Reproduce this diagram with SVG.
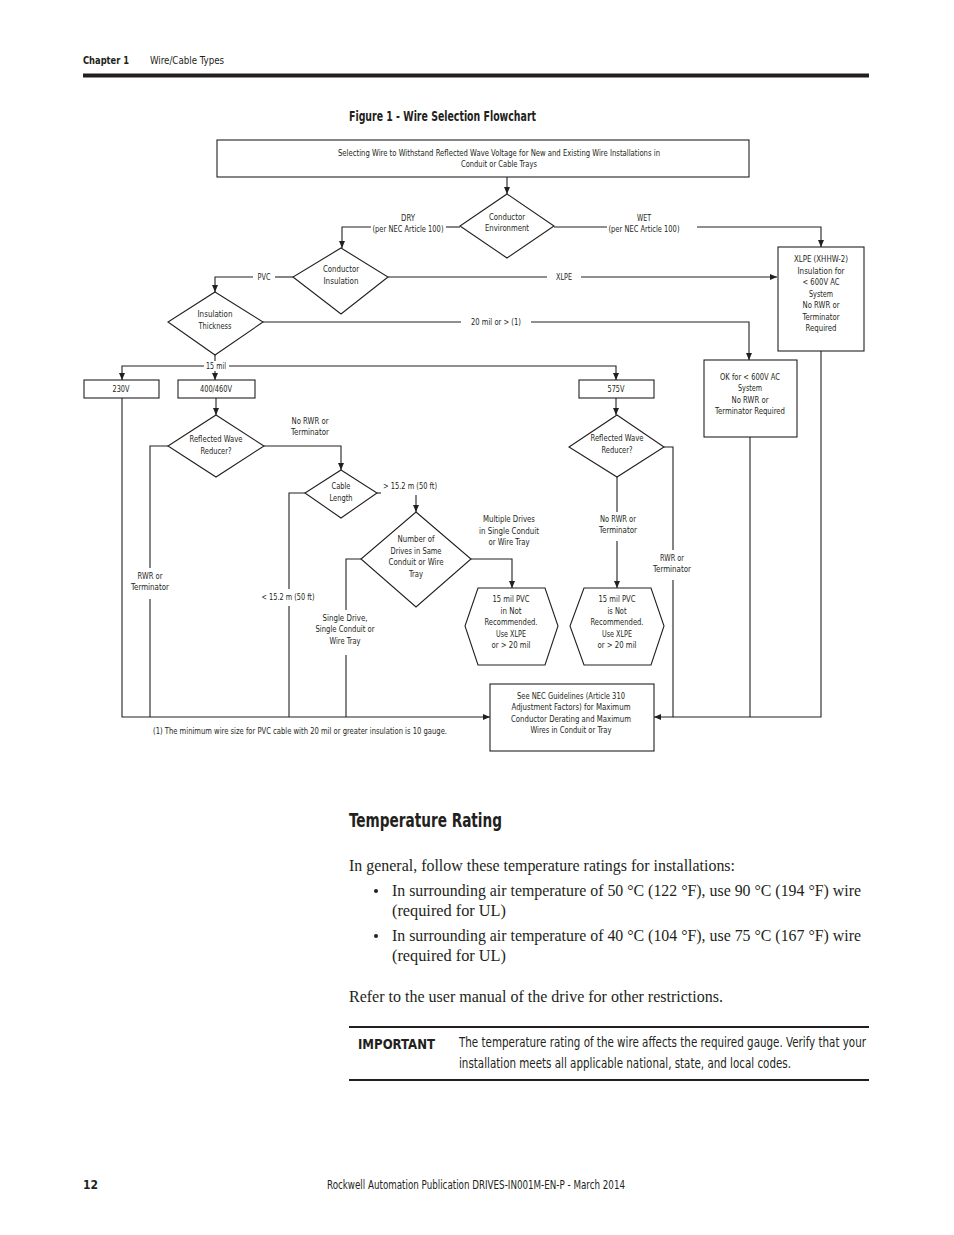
<svg xmlns="http://www.w3.org/2000/svg" width="954" height="1235" viewBox="0 0 954 1235">
<style>
.bg{fill:#fff}
.box{fill:#fff;stroke:#231f20;stroke-width:1.1}
.c{fill:none;stroke:#231f20;stroke-width:1.1}
.t{font-family:"Liberation Sans Narrow","DejaVu Sans Condensed","Liberation Sans",sans-serif;font-size:9.5px;fill:#231f20;text-anchor:middle}
.s{font-family:"Liberation Sans Narrow","DejaVu Sans Condensed","Liberation Sans",sans-serif;fill:#231f20}
.b{font-weight:bold}
.serif{font-family:"Liberation Serif","DejaVu Serif",serif;font-size:16.5px;fill:#231f20}
</style>
<defs>
<marker id="ah" markerWidth="8" markerHeight="8" refX="7" refY="4" orient="auto" markerUnits="userSpaceOnUse">
<path d="M0,1 L7,4 L0,7 Z" fill="#231f20"/>
</marker>
</defs>
<rect class="bg" x="0" y="0" width="954" height="1235"/>

<g id="header">
<text class="s b" x="83" y="64" font-size="11" textLength="46" lengthAdjust="spacingAndGlyphs">Chapter 1</text>
<text class="s" x="150" y="64" font-size="11" textLength="74" lengthAdjust="spacingAndGlyphs">Wire/Cable Types</text>
<rect x="83" y="73.5" width="786" height="4" fill="#231f20"/>
<text class="s b" x="349" y="121" font-size="14" textLength="187" lengthAdjust="spacingAndGlyphs">Figure 1 - Wire Selection Flowchart</text>
</g>

<g id="connectors">
<path class="c" d="M507,177 V194" marker-end="url(#ah)"/>
<path class="c" d="M460,227 H446"/>
<path class="c" d="M371,227 H342 V248" marker-end="url(#ah)"/>
<path class="c" d="M554,227 H607"/>
<path class="c" d="M697,227 H821 V247" marker-end="url(#ah)"/>
<path class="c" d="M293,277 H275"/>
<path class="c" d="M253,277 H215 V292" marker-end="url(#ah)"/>
<path class="c" d="M388,277 H547"/>
<path class="c" d="M581,277 H777" marker-end="url(#ah)"/>
<path class="c" d="M263,322 H461"/>
<path class="c" d="M531,322 H749 V360" marker-end="url(#ah)"/>
<path class="c" d="M215,355 V361"/>
<path class="c" d="M204,366 H122 V380" marker-end="url(#ah)"/>
<path class="c" d="M215,371 V380" marker-end="url(#ah)"/>
<path class="c" d="M229,366 H616 V380" marker-end="url(#ah)"/>
<path class="c" d="M216,398 V415" marker-end="url(#ah)"/>
<path class="c" d="M264,446 H341 V470" marker-end="url(#ah)"/>
<path class="c" d="M168,446 H150 V568"/>
<path class="c" d="M150,599 V717"/>
<path class="c" d="M122,398 V717 H490" marker-end="url(#ah)"/>
<path class="c" d="M305,493 H289 V589"/>
<path class="c" d="M289,606 V717"/>
<path class="c" d="M377,493 H381"/>
<path class="c" d="M416,495 V512" marker-end="url(#ah)"/>
<path class="c" d="M471,559 H512 V588" marker-end="url(#ah)"/>
<path class="c" d="M361,559 H346 V610"/>
<path class="c" d="M346,655 V717"/>
<path class="c" d="M616,398 V415" marker-end="url(#ah)"/>
<path class="c" d="M617,477 V512"/>
<path class="c" d="M617,541 V588" marker-end="url(#ah)"/>
<path class="c" d="M664,447 H673 V550"/>
<path class="c" d="M673,580 V717 H654" marker-end="url(#ah)"/>
<path class="c" d="M750,437 V717"/>
<path class="c" d="M821,351 V717 H673"/>
</g>

<g id="edge-labels">
<text class="t" x="408" y="221" textLength="14" lengthAdjust="spacingAndGlyphs">DRY</text>
<text class="t" x="408" y="232" textLength="71" lengthAdjust="spacingAndGlyphs">(per NEC Article 100)</text>
<text class="t" x="644" y="221" textLength="14" lengthAdjust="spacingAndGlyphs">WET</text>
<text class="t" x="644" y="232" textLength="71" lengthAdjust="spacingAndGlyphs">(per NEC Article 100)</text>
<text class="t" x="264" y="280" textLength="13" lengthAdjust="spacingAndGlyphs">PVC</text>
<text class="t" x="564" y="280" textLength="16" lengthAdjust="spacingAndGlyphs">XLPE</text>
<text class="t" x="496" y="325" textLength="50" lengthAdjust="spacingAndGlyphs">20 mil or &gt; (1)</text>
<text class="t" x="216" y="369" textLength="20" lengthAdjust="spacingAndGlyphs">15 mil</text>
<text class="t" x="310" y="424" textLength="37" lengthAdjust="spacingAndGlyphs">No RWR or</text>
<text class="t" x="310" y="435" textLength="38" lengthAdjust="spacingAndGlyphs">Terminator</text>
<text class="t" x="150" y="579" textLength="25" lengthAdjust="spacingAndGlyphs">RWR or</text>
<text class="t" x="150" y="590" textLength="38" lengthAdjust="spacingAndGlyphs">Terminator</text>
<text class="t" x="288" y="600" textLength="53" lengthAdjust="spacingAndGlyphs">&lt; 15.2 m (50 ft)</text>
<text class="t" x="410" y="489" textLength="54" lengthAdjust="spacingAndGlyphs">&gt; 15.2 m (50 ft)</text>
<text class="t" x="509" y="522" textLength="52" lengthAdjust="spacingAndGlyphs">Multiple Drives</text>
<text class="t" x="509" y="534" textLength="60" lengthAdjust="spacingAndGlyphs">in Single Conduit</text>
<text class="t" x="509" y="545" textLength="41" lengthAdjust="spacingAndGlyphs">or Wire Tray</text>
<text class="t" x="345" y="621" textLength="45" lengthAdjust="spacingAndGlyphs">Single Drive,</text>
<text class="t" x="345" y="632" textLength="59" lengthAdjust="spacingAndGlyphs">Single Conduit or</text>
<text class="t" x="345" y="644" textLength="31" lengthAdjust="spacingAndGlyphs">Wire Tray</text>
<text class="t" x="618" y="522" textLength="36" lengthAdjust="spacingAndGlyphs">No RWR or</text>
<text class="t" x="618" y="533" textLength="38" lengthAdjust="spacingAndGlyphs">Terminator</text>
<text class="t" x="672" y="561" textLength="24" lengthAdjust="spacingAndGlyphs">RWR or</text>
<text class="t" x="672" y="572" textLength="38" lengthAdjust="spacingAndGlyphs">Terminator</text>
<text class="t" x="300" y="734" textLength="294" lengthAdjust="spacingAndGlyphs">(1) The minimum wire size for PVC cable with 20 mil or greater insulation is 10 gauge.</text>
</g>

<g id="n-start">
<rect class="box" x="217" y="140" width="532" height="37"/>
<text class="t" x="499" y="156" textLength="322" lengthAdjust="spacingAndGlyphs">Selecting Wire to Withstand Reflected Wave Voltage for New and Existing Wire Installations in</text>
<text class="t" x="499" y="167" textLength="76" lengthAdjust="spacingAndGlyphs">Conduit or Cable Trays</text>
</g>
<g id="n-environment">
<polygon class="box" points="507,194 554,226 507,258 460,226"/>
<text class="t" x="507" y="220" textLength="36" lengthAdjust="spacingAndGlyphs">Conductor</text>
<text class="t" x="507" y="231" textLength="44" lengthAdjust="spacingAndGlyphs">Environment</text>
</g>
<g id="n-insulation">
<polygon class="box" points="341,248 388,277 341,314 293,277"/>
<text class="t" x="341" y="272" textLength="36" lengthAdjust="spacingAndGlyphs">Conductor</text>
<text class="t" x="341" y="284" textLength="35" lengthAdjust="spacingAndGlyphs">Insulation</text>
</g>
<g id="n-xlpe">
<rect class="box" x="778" y="247" width="86" height="104"/>
<text class="t" x="821" y="262" textLength="54" lengthAdjust="spacingAndGlyphs">XLPE (XHHW-2)</text>
<text class="t" x="821" y="274" textLength="47" lengthAdjust="spacingAndGlyphs">Insulation for</text>
<text class="t" x="821" y="285" textLength="37" lengthAdjust="spacingAndGlyphs">&lt; 600V AC</text>
<text class="t" x="821" y="297" textLength="24" lengthAdjust="spacingAndGlyphs">System</text>
<text class="t" x="821" y="308" textLength="37" lengthAdjust="spacingAndGlyphs">No RWR or</text>
<text class="t" x="821" y="320" textLength="37" lengthAdjust="spacingAndGlyphs">Terminator</text>
<text class="t" x="821" y="331" textLength="31" lengthAdjust="spacingAndGlyphs">Required</text>
</g>
<g id="n-thickness">
<polygon class="box" points="215,292 263,322 215,355 168,322"/>
<text class="t" x="215" y="317" textLength="35" lengthAdjust="spacingAndGlyphs">Insulation</text>
<text class="t" x="215" y="329" textLength="33" lengthAdjust="spacingAndGlyphs">Thickness</text>
</g>
<g id="n-ok">
<rect class="box" x="704" y="360" width="93" height="77"/>
<text class="t" x="750" y="380" textLength="60" lengthAdjust="spacingAndGlyphs">OK for &lt; 600V AC</text>
<text class="t" x="750" y="391" textLength="24" lengthAdjust="spacingAndGlyphs">System</text>
<text class="t" x="750" y="403" textLength="37" lengthAdjust="spacingAndGlyphs">No RWR or</text>
<text class="t" x="750" y="414" textLength="70" lengthAdjust="spacingAndGlyphs">Terminator Required</text>
</g>
<g id="n-230">
<rect class="box" x="84" y="380" width="75" height="18"/>
<text class="t" x="121" y="392" textLength="17" lengthAdjust="spacingAndGlyphs">230V</text>
</g>
<g id="n-400">
<rect class="box" x="178" y="380" width="77" height="18"/>
<text class="t" x="216" y="392" textLength="32" lengthAdjust="spacingAndGlyphs">400/460V</text>
</g>
<g id="n-575">
<rect class="box" x="579" y="380" width="75" height="18"/>
<text class="t" x="616" y="392" textLength="17" lengthAdjust="spacingAndGlyphs">575V</text>
</g>
<g id="n-rwr1">
<polygon class="box" points="216,415 264,446 216,477 168,446"/>
<text class="t" x="216" y="442" textLength="53" lengthAdjust="spacingAndGlyphs">Reflected Wave</text>
<text class="t" x="216" y="454" textLength="31" lengthAdjust="spacingAndGlyphs">Reducer?</text>
</g>
<g id="n-cable">
<polygon class="box" points="341,470 377,493 341,518 305,493"/>
<text class="t" x="341" y="489" textLength="19" lengthAdjust="spacingAndGlyphs">Cable</text>
<text class="t" x="341" y="501" textLength="23" lengthAdjust="spacingAndGlyphs">Length</text>
</g>
<g id="n-drives">
<polygon class="box" points="416,512 471,559 416,607 361,559"/>
<text class="t" x="416" y="542" textLength="37" lengthAdjust="spacingAndGlyphs">Number of</text>
<text class="t" x="416" y="554" textLength="51" lengthAdjust="spacingAndGlyphs">Drives in Same</text>
<text class="t" x="416" y="565" textLength="55" lengthAdjust="spacingAndGlyphs">Conduit or Wire</text>
<text class="t" x="416" y="577" textLength="14" lengthAdjust="spacingAndGlyphs">Tray</text>
</g>
<g id="n-hex1">
<polygon class="box" points="478,588 545,588 558,626 545,665 478,665 465,626"/>
<text class="t" x="511" y="602" textLength="37" lengthAdjust="spacingAndGlyphs">15 mil PVC</text>
<text class="t" x="511" y="614" textLength="21" lengthAdjust="spacingAndGlyphs">in Not</text>
<text class="t" x="511" y="625" textLength="53" lengthAdjust="spacingAndGlyphs">Recommended.</text>
<text class="t" x="511" y="637" textLength="30" lengthAdjust="spacingAndGlyphs">Use XLPE</text>
<text class="t" x="511" y="648" textLength="39" lengthAdjust="spacingAndGlyphs">or &gt; 20 mil</text>
</g>
<g id="n-rwr2">
<polygon class="box" points="617,415 664,447 617,477 569,447"/>
<text class="t" x="617" y="441" textLength="53" lengthAdjust="spacingAndGlyphs">Reflected Wave</text>
<text class="t" x="617" y="453" textLength="31" lengthAdjust="spacingAndGlyphs">Reducer?</text>
</g>
<g id="n-hex2">
<polygon class="box" points="584,588 651,588 664,626 651,665 584,665 570,626"/>
<text class="t" x="617" y="602" textLength="37" lengthAdjust="spacingAndGlyphs">15 mil PVC</text>
<text class="t" x="617" y="614" textLength="19" lengthAdjust="spacingAndGlyphs">is Not</text>
<text class="t" x="617" y="625" textLength="53" lengthAdjust="spacingAndGlyphs">Recommended.</text>
<text class="t" x="617" y="637" textLength="30" lengthAdjust="spacingAndGlyphs">Use XLPE</text>
<text class="t" x="617" y="648" textLength="39" lengthAdjust="spacingAndGlyphs">or &gt; 20 mil</text>
</g>
<g id="n-nec">
<rect class="box" x="490" y="684" width="164" height="67"/>
<text class="t" x="571" y="699" textLength="108" lengthAdjust="spacingAndGlyphs">See NEC Guidelines (Article 310</text>
<text class="t" x="571" y="710" textLength="119" lengthAdjust="spacingAndGlyphs">Adjustment Factors) for Maximum</text>
<text class="t" x="571" y="722" textLength="120" lengthAdjust="spacingAndGlyphs">Conductor Derating and Maximum</text>
<text class="t" x="571" y="733" textLength="81" lengthAdjust="spacingAndGlyphs">Wires in Conduit or Tray</text>
</g>

<g id="body">
<text class="s b" x="349" y="827" font-size="20" textLength="153" lengthAdjust="spacingAndGlyphs">Temperature Rating</text>
<text class="serif" x="349" y="871" textLength="386" lengthAdjust="spacingAndGlyphs">In general, follow these temperature ratings for installations:</text>
<circle cx="376" cy="891" r="2" fill="#231f20"/>
<text class="serif" x="392" y="896" textLength="469" lengthAdjust="spacingAndGlyphs">In surrounding air temperature of 50 °C (122 °F), use 90 °C (194 °F) wire</text>
<text class="serif" x="392" y="916" textLength="114" lengthAdjust="spacingAndGlyphs">(required for UL)</text>
<circle cx="376" cy="936" r="2" fill="#231f20"/>
<text class="serif" x="392" y="941" textLength="469" lengthAdjust="spacingAndGlyphs">In surrounding air temperature of 40 °C (104 °F), use 75 °C (167 °F) wire</text>
<text class="serif" x="392" y="961" textLength="114" lengthAdjust="spacingAndGlyphs">(required for UL)</text>
<text class="serif" x="349" y="1002" textLength="374" lengthAdjust="spacingAndGlyphs">Refer to the user manual of the drive for other restrictions.</text>
<rect x="349" y="1026" width="520" height="2" fill="#231f20"/>
<text class="s b" x="358" y="1049" font-size="14" textLength="77" lengthAdjust="spacingAndGlyphs">IMPORTANT</text>
<text class="s" x="459" y="1047" font-size="14" textLength="407" lengthAdjust="spacingAndGlyphs">The temperature rating of the wire affects the required gauge. Verify that your</text>
<text class="s" x="459" y="1068" font-size="14" textLength="332" lengthAdjust="spacingAndGlyphs">installation meets all applicable national, state, and local codes.</text>
<rect x="349" y="1079" width="520" height="2" fill="#231f20"/>
</g>

<g id="footer">
<text class="s b" x="83" y="1189" font-size="12">12</text>
<text class="s" x="327" y="1189" font-size="12" textLength="298" lengthAdjust="spacingAndGlyphs">Rockwell Automation Publication DRIVES-IN001M-EN-P - March 2014</text>
</g>
</svg>
